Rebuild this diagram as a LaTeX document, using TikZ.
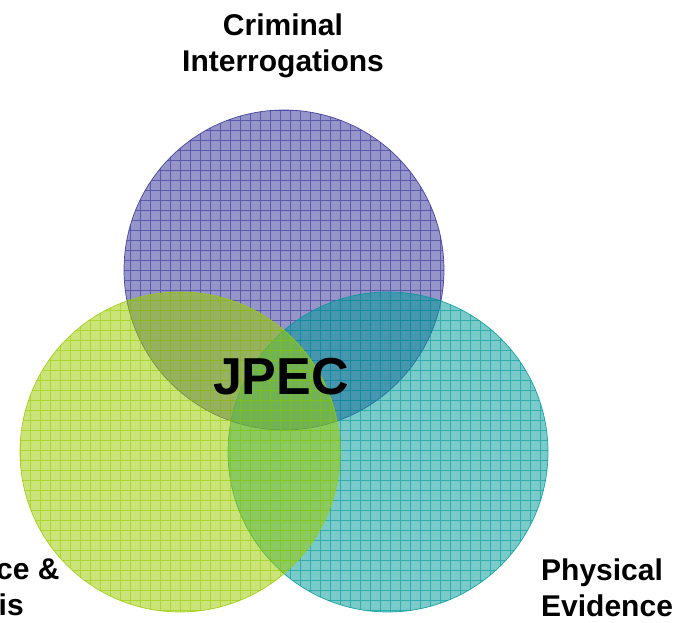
\documentclass[tikz,border=0pt]{standalone}
\usepackage{fontspec}
\setmainfont{Liberation Sans}
\usepackage{tikz}
\usetikzlibrary{positioning}

\definecolor{purp}{RGB}{51,51,153}
\definecolor{lime}{RGB}{153,204,0}
\definecolor{teal}{RGB}{0,153,153}

\tikzset{
  label/.style={font=\bfseries\fontsize{30}{36}\selectfont, inner sep=0pt},
  core/.style={font=\bfseries\fontsize{52}{60}\selectfont, inner sep=0pt},
  disc/.style={fill=#1, fill opacity=0.52},
  mesh/.style={draw=#1, draw opacity=0.6, line width=0.5pt},
  rim/.style={draw=#1, draw opacity=0.85, line width=0.7pt},
}

\begin{document}
\begin{tikzpicture}[x=1pt,y=-1pt]
            \clip (0,0) rectangle (696,623);
            % three see-through circles: purple first, then teal, green on top
            \foreach \cx/\cy/\col in {284/270/purp, 388/452/teal, 180/452/lime}{
              \fill[disc=\col] (\cx,\cy) circle (160pt);
              \begin{scope}
                \clip (\cx,\cy) circle (160pt);
                \draw[mesh=\col, step=10pt] (0,0) grid (696,623);
              \end{scope}
              \draw[rim=\col] (\cx,\cy) circle (160pt);
            }
            \node[label, align=center] (crim) at (283,46) {Criminal\\Interrogations};
            \node[label, align=center] (intel) at (-38,590) {Intelligence \&\\Analysis};
            \node[label, align=left, anchor=west] (phys) at (541,588) {Physical\\Evidence};
            \node[core] (jpec) at (281,377) {JPEC};
        \end{tikzpicture}
\end{document}
